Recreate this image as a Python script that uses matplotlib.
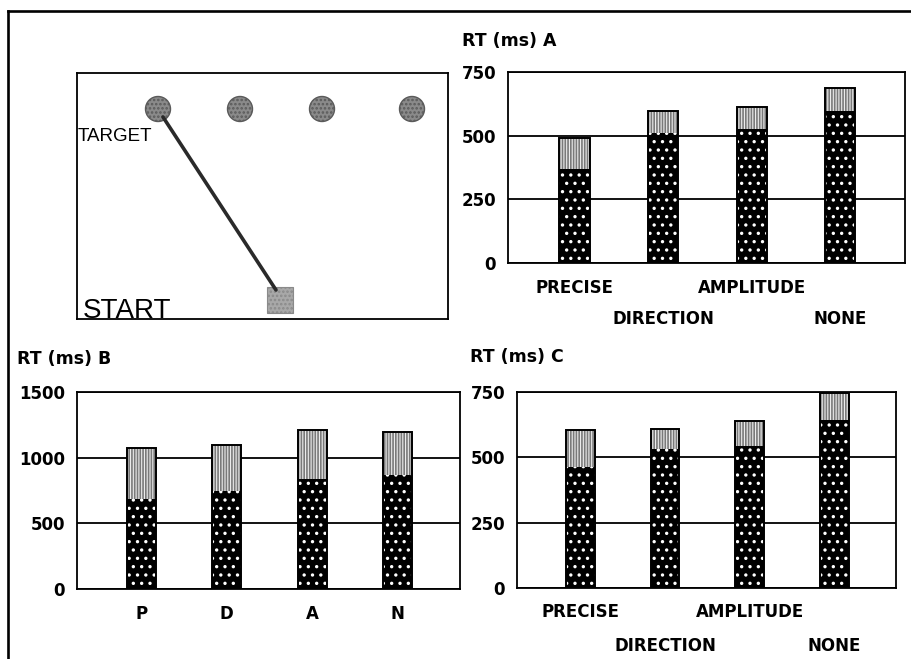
import numpy as np
import matplotlib
matplotlib.use("Agg")
import matplotlib.pyplot as plt
from matplotlib.patches import Circle, Rectangle
from matplotlib.lines import Line2D

# reaction times (ms): lower dark part and full bar height
conditions = ["PRECISE", "DIRECTION", "AMPLITUDE", "NONE"]
short_labels = ["P", "D", "A", "N"]

a_dark = [369, 512, 525, 598]
a_total = [490, 598, 614, 687]
b_dark = [683, 748, 835, 865]
b_total = [1075, 1093, 1209, 1192]
c_dark = [463, 531, 544, 642]
c_total = [604, 610, 638, 748]

a_ticks = [0, 250, 500, 750]
b_ticks = [0, 500, 1000, 1500]
c_ticks = [0, 250, 500, 750]

# target display: four targets in a row, start square below
target_x = [81, 163, 245, 335]
target_y = 36
start_xy = (203, 227)

W, H = 911, 659
plt.rcParams["font.family"] = "DejaVu Sans"
plt.rcParams["font.weight"] = "bold"
plt.rcParams["hatch.linewidth"] = 1.2

fig = plt.figure(figsize=(W / 100, H / 100), dpi=100)


def box(x0, y0, x1, y1):
    return [x0 / W, 1 - y1 / H, (x1 - x0) / W, (y1 - y0) / H]


def fpos(x, y):
    return x / W, 1 - y / H


def bar_panel(rect, dark, total, ticks, labels, stagger, pads):
    ax = fig.add_axes(rect)
    x = np.arange(len(dark))
    dark = np.array(dark)
    total = np.array(total)
    w = 0.34
    ax.bar(x, dark, width=w, color="black", edgecolor="white", hatch="..", linewidth=0, zorder=2)
    ax.bar(x, total - dark, bottom=dark, width=w, color="#ececec", edgecolor="#7a7a7a",
           hatch="||||||", linewidth=0, zorder=2)
    ax.bar(x, total, width=w, fill=False, edgecolor="black", linewidth=1.4, zorder=3)
    ax.set_xlim(-0.75, 3.73)
    ax.set_ylim(ticks[0], ticks[-1])
    ax.set_yticks(ticks)
    ax.set_yticklabels([str(t) for t in ticks], fontsize=12, fontweight="bold")
    ax.tick_params(axis="y", length=0, pad=8.5)
    ax.grid(axis="y", color="black", linewidth=1.3)
    ax.set_axisbelow(True)
    if stagger:
        ax.set_xticks(x[::2])
        ax.set_xticklabels(labels[::2], fontsize=12, fontweight="bold")
        ax.set_xticks(x[1::2], minor=True)
        ax.set_xticklabels(labels[1::2], minor=True, fontsize=12, fontweight="bold")
        ax.tick_params(axis="x", which="major", length=0, pad=pads[0])
        ax.tick_params(axis="x", which="minor", length=0, pad=pads[1])
    else:
        ax.set_xticks(x)
        ax.set_xticklabels(labels, fontsize=12, fontweight="bold")
        ax.tick_params(axis="x", length=0, pad=pads[0])
    for s in ax.spines.values():
        s.set_linewidth(1.3)
        s.set_color("black")
    return ax


# panel with the movement layout
axd = fig.add_axes(box(77, 73, 448, 319))
axd.set_xlim(0, 371)
axd.set_ylim(246, 0)
axd.set_xticks([])
axd.set_yticks([])
for s in axd.spines.values():
    s.set_linewidth(1.3)
for tx in target_x:
    axd.add_patch(Circle((tx, target_y), 12.5, facecolor="#8a8a8a", edgecolor="#5a5a5a",
                         hatch="....", linewidth=1.0))
axd.plot([target_x[0] + 5, start_xy[0] - 4], [target_y + 8, start_xy[1] - 10],
         color="#2a2a2a", linewidth=2.6, solid_capstyle="round")
axd.add_patch(Rectangle((start_xy[0] - 13, start_xy[1] - 13), 26, 26, facecolor="#a8a8a8",
                        edgecolor="#8a8a8a", hatch="....", linewidth=0.8))
axd.text(1, 63, "TARGET", fontsize=13.5, fontweight="normal", family="Liberation Sans",
         ha="left", va="center")
axd.text(6, 245, "START", fontsize=20, fontweight="normal", family="Liberation Sans",
         ha="left", va="baseline")

bar_panel(box(508, 72, 905, 263), a_dark, a_total, a_ticks, conditions, True, (11.5, 34))
bar_panel(box(77, 392, 460, 589), b_dark, b_total, b_ticks, short_labels, False, (11.5, 0))
bar_panel(box(517, 392, 896, 588), c_dark, c_total, c_ticks, conditions, True, (10.5, 35))

fig.text(*fpos(462, 41), "RT (ms) A", fontsize=12.5, fontweight="bold", ha="left", va="center")
fig.text(*fpos(17, 359), "RT (ms) B", fontsize=12.5, fontweight="bold", ha="left", va="center")
fig.text(*fpos(470, 357), "RT (ms) C", fontsize=12.5, fontweight="bold", ha="left", va="center")

# outer frame (top and left edges only)
fig.add_artist(Line2D([8 / W, 1.0], [1 - 11 / H, 1 - 11 / H], color="black", linewidth=1.9,
                      transform=fig.transFigure))
fig.add_artist(Line2D([8 / W, 8 / W], [0, 1 - 11 / H], color="black", linewidth=1.9,
                      transform=fig.transFigure))

fig.savefig("out.png", dpi=100, facecolor="white")
